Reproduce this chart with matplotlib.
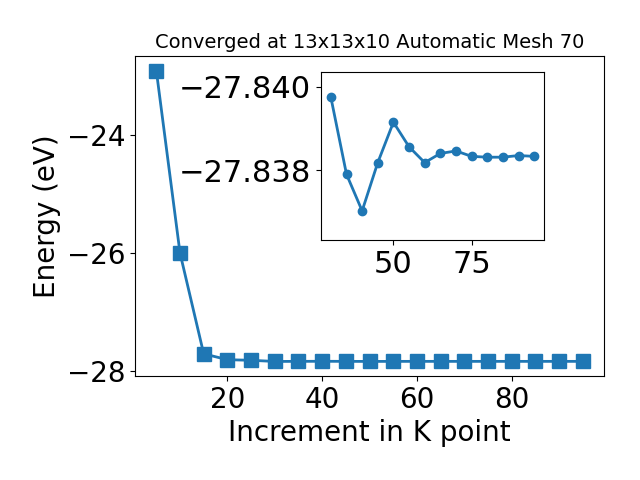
import matplotlib
matplotlib.use("Agg")
import matplotlib.pyplot as plt
from matplotlib.ticker import FuncFormatter

kpoints = [5, 10, 15, 20, 25, 30, 35, 40, 45, 50, 55, 60, 65, 70, 75, 80, 85, 90, 95]
energy = [-22.905, -26.0, -27.71, -27.81, -27.82,
          -27.83975, -27.83790, -27.83702, -27.83818, -27.83915, -27.83856,
          -27.83818, -27.83840, -27.83846, -27.83833, -27.83831, -27.83831,
          -27.83835, -27.83833]

inset_k = kpoints[5:]
inset_e = energy[5:]

fig = plt.figure(figsize=(6.4, 4.8), dpi=100)
ax = fig.add_axes([135/640, 1-376/480, (604-135)/640, (376-56)/480])
ax.plot(kpoints, energy, marker='s', markersize=10, linewidth=2, color='#1f77b4')
ax.set_xlabel('Increment in K point', fontsize=20)
ax.set_ylabel('Energy (eV)', fontsize=20)
ax.set_title('Converged at 13x13x10 Automatic Mesh 70', fontsize=14)
ax.tick_params(labelsize=20)
ax.set_xticks([20, 40, 60, 80])
ax.set_yticks([-28, -26, -24])

ins = fig.add_axes([320.7/640, 1-240/480, (544.3-320.7)/640, (240-72.3)/480])
ins.plot(inset_k, inset_e, marker='o', markersize=6, linewidth=2, color='#1f77b4')
ins.set_ylim(-27.83632, -27.84035)
ins.set_xticks([50, 75])
ins.set_yticks([-27.840, -27.838])
ins.yaxis.set_major_formatter(FuncFormatter(lambda v, p: ('%.3f' % v).replace('-', '\u2212')))
ins.tick_params(labelsize=22)

fig.savefig('out.png', dpi=100)
